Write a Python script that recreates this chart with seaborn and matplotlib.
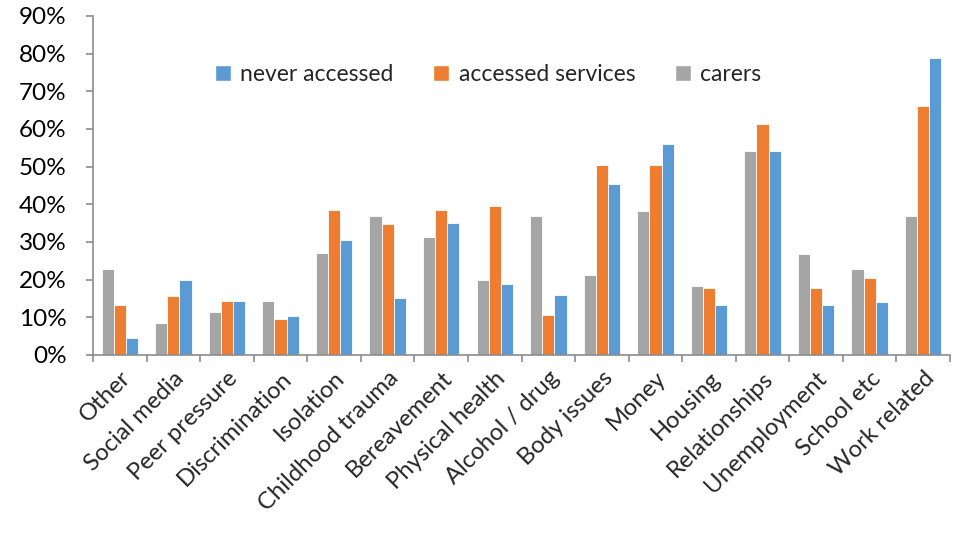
import matplotlib
matplotlib.use("Agg")
import matplotlib.pyplot as plt
from matplotlib.patches import Patch
from matplotlib.ticker import PercentFormatter, FixedLocator
import seaborn as sns
import pandas as pd

categories = ["Other", "Social media", "Peer pressure", "Discrimination", "Isolation",
              "Childhood trauma", "Bereavement", "Physical health", "Alcohol / drug",
              "Body issues", "Money", "Housing", "Relationships", "Unemployment",
              "School etc", "Work related"]
carers = [22.8, 8.5, 11.3, 14.2, 27.0, 37.0, 31.2, 19.9, 37.0, 21.3, 38.3, 18.3, 54.1, 26.9, 22.7, 36.9]
accessed_services = [13.2, 15.6, 14.4, 9.5, 38.4, 34.9, 38.4, 39.6, 10.7, 50.5, 50.4, 17.9, 61.2, 17.9, 20.4, 66.0]
never_accessed = [4.6, 19.9, 14.2, 10.4, 30.4, 15.1, 35.1, 18.9, 16.0, 45.5, 56.0, 13.2, 54.1, 13.2, 14.1, 78.8]

series_names = ["carers", "accessed services", "never accessed"]
palette = {"carers": "#A5A5A5", "accessed services": "#ED7D31", "never accessed": "#5B9BD5"}

rows = []
for name, vals in zip(series_names, [carers, accessed_services, never_accessed]):
    for cat, v in zip(categories, vals):
        rows.append({"category": cat, "group": name, "value": v})
df = pd.DataFrame(rows)

sns.set_style("white")
plt.rcParams["font.family"] = ["Lato", "DejaVu Sans"]

fig = plt.figure(figsize=(9.55, 5.33), dpi=100)
ax = fig.add_axes([0.0974, 0.334, 0.8974, 0.636])

sns.barplot(data=df, x="category", y="value", hue="group", order=categories,
            hue_order=series_names, palette=palette, width=0.68, saturation=1,
            edgecolor="white", linewidth=0.6, legend=False, ax=ax)

axis_color = "#8C8C8C"
ax.set_xlim(-0.5, len(categories) - 0.5)
ax.set_ylim(0, 90)
ax.yaxis.set_major_locator(FixedLocator(range(0, 91, 10)))
ax.yaxis.set_major_formatter(PercentFormatter(decimals=0))
ax.set_xlabel("")
ax.set_ylabel("")

for side in ["top", "right"]:
    ax.spines[side].set_visible(False)
for side in ["left", "bottom"]:
    ax.spines[side].set_color(axis_color)
    ax.spines[side].set_linewidth(1.2)

ax.tick_params(axis="y", which="major", direction="out", length=5, width=1.2,
               color=axis_color, labelsize=17.5, labelcolor="black", pad=14, left=True)
ax.set_xticks(range(len(categories)))
ax.set_xticklabels(categories, rotation=45, ha="right", rotation_mode="anchor",
                   fontsize=17.2)
ax.tick_params(axis="x", which="major", length=0, pad=9)
ax.set_xticks([i - 0.5 for i in range(len(categories) + 1)], minor=True)
ax.tick_params(axis="x", which="minor", direction="out", length=5, width=1.2,
               color=axis_color, bottom=True)

handles = [Patch(facecolor=palette[n], label=n) for n in reversed(series_names)]
ax.legend(handles=handles, loc="center", bbox_to_anchor=(0.461, 0.827),
          ncol=3, frameon=False, fontsize=16.5, handlelength=0.7, handleheight=0.7,
          handletextpad=0.4, columnspacing=1.75)

fig.savefig("out.png", dpi=100)
